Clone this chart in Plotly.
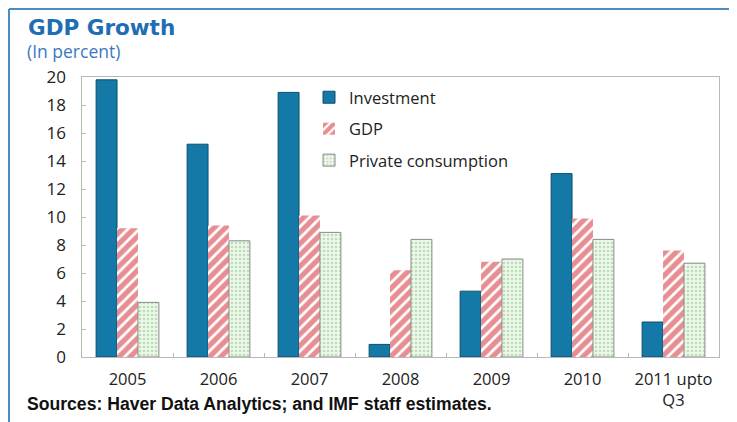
import plotly.graph_objects as go

categories = ["2005", "2006", "2007", "2008", "2009", "2010", "2011 upto<br>Q3"]
investment = [19.8, 15.2, 18.9, 0.9, 4.7, 13.1, 2.5]
gdp = [9.2, 9.4, 10.1, 6.2, 6.8, 9.9, 7.6]
private_consumption = [3.9, 8.3, 8.9, 8.4, 7.0, 8.4, 6.7]
y_ticks = [0, 2, 4, 6, 8, 10, 12, 14, 16, 18, 20]

# the page body adds 8px, so the figure is drawn 8px smaller/shifted
OFF = 8
W, H = 737 - OFF, 422 - OFF
ML, R = 58, 18                 # paper area starts 16px left of the plot box
T, PH = 77 - OFF, 280
B = H - T - PH
PWP = W - ML - R
X0 = (82 - OFF - ML) / PWP     # start of the bar plot box in paper coords


def px_x(px):
    # reference-image pixel -> paper coordinate
    return (px - OFF - ML) / PWP


def px_y(py):
    return (T + PH - (py - OFF)) / PH


fig = go.Figure()
fig.add_trace(go.Bar(
    x=categories, y=investment, name="Investment", legendgroup="a",
    marker=dict(color="#1479a6", line=dict(color="#0d4f6e", width=1)),
))
fig.add_trace(go.Bar(
    x=categories, y=gdp, name="GDP", legendgroup="b",
    marker=dict(
        color="#ffffff",
        line=dict(color="#ffffff", width=0),
        pattern=dict(shape="/", fgcolor="#cf1e26", bgcolor="#ffffff",
                     size=8, solidity=0.65),
    ),
))
fig.add_trace(go.Bar(
    x=categories, y=private_consumption, name="Private consumption", legendgroup="c",
    marker=dict(
        color="#eaf6e4",
        line=dict(color="#8a8a8a", width=1),
        pattern=dict(shape=".", fgcolor="#86c584", bgcolor="#eef8ea",
                     size=4, solidity=0.35),
    ),
))
# empty trace so the label-only y axis gets drawn
fig.add_trace(go.Scatter(x=[], y=[], yaxis="y2", showlegend=False, hoverinfo="skip"))

fig.update_layout(
    width=W, height=H,
    margin=dict(l=ML, r=R, t=T, b=B),
    paper_bgcolor="white", plot_bgcolor="white",
    font=dict(family="Open Sans, Liberation Sans, sans-serif", color="#222222", size=16),
    barmode="group", bargap=0.31, bargroupgap=0,
    showlegend=True,
    legend=dict(
        x=px_x(309), y=px_y(80), xanchor="left", yanchor="top",
        bgcolor="rgba(0,0,0,0)", font=dict(size=16.5, color="#222222"),
        tracegroupgap=7, itemwidth=30,
    ),
    xaxis=dict(
        domain=[X0, 1],
        showline=True, linecolor="#b8b8b8", mirror=True,
        ticks="inside", ticklen=4, tickcolor="#b8b8b8",
        tickson="boundaries", showgrid=False, ticklabelstandoff=7,
        tickfont=dict(size=16.5, color="#222222"),
    ),
    yaxis=dict(
        range=[0, 20], tickvals=y_ticks, showticklabels=False,
        showline=True, linecolor="#b8b8b8", mirror=True,
        ticks="inside", ticklen=4, tickcolor="#b8b8b8",
        showgrid=False, zeroline=False,
    ),
    # label-only axis sitting a little left of the plot box
    yaxis2=dict(
        range=[0, 20], tickvals=y_ticks, overlaying="y",
        anchor="free", position=0, side="left",
        showline=False, ticks="", showgrid=False, zeroline=False,
        tickfont=dict(size=17, color="#222222"),
    ),
)

# titles and source note
fig.add_annotation(
    text="<b>GDP Growth</b>", xref="paper", yref="paper",
    x=px_x(26), y=px_y(28), xanchor="left", yanchor="middle", showarrow=False,
    font=dict(size=21.5, color="#1f6db3", family="DejaVu Sans, sans-serif"),
)
fig.add_annotation(
    text="(In percent)", xref="paper", yref="paper",
    x=px_x(25), y=px_y(51), xanchor="left", yanchor="middle", showarrow=False,
    font=dict(size=17.5, color="#3a78c0"),
)
fig.add_annotation(
    text="<b>Sources: Haver Data Analytics; and IMF staff estimates.</b>",
    xref="paper", yref="paper",
    x=px_x(25), y=px_y(404), xanchor="left", yanchor="middle", showarrow=False,
    font=dict(size=17.6, color="#111111", family="Liberation Sans, sans-serif"),
)

# outer frame (top and left edges)
frame = dict(color="#4b8bc6", width=2)
fig.add_shape(type="line", xref="paper", yref="paper",
              x0=px_x(9), y0=px_y(9), x1=px_x(745), y1=px_y(9), line=frame)
fig.add_shape(type="line", xref="paper", yref="paper",
              x0=px_x(9), y0=px_y(9), x1=px_x(9), y1=px_y(430), line=frame)

fig.write_html("out.html")
